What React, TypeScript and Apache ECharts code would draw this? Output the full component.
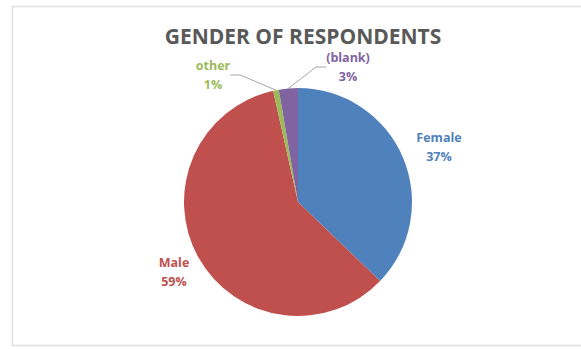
import React, { useEffect, useRef } from "react";
import * as echarts from "echarts";

const categories = ["Female", "Male", "other", "(blank)"];
const values = [37.2, 59.3, 0.8, 2.7];
const colors = ["#4F81BD", "#C0504D", "#9BBB59", "#8064A2"];
const labelColors = ["#4F81BD", "#C0504D", "#9BBB59", "#8064A2"];
const title = "GENDER OF RESPONDENTS";
// label block centres (chart px)
const labelPos: [number, number][] = [
  [439, 147],
  [174, 272],
  [213, 75],
  [348, 67],
];
const showLine = [false, false, true, true];

export default function App() {
  const ref = useRef<HTMLDivElement>(null);
  useEffect(() => {
    if (!ref.current) return;
    const chart = echarts.init(ref.current, undefined, { renderer: "svg" });
    const total = values.reduce((a, b) => a + b, 0);
    chart.setOption({
      animation: false,
      backgroundColor: "#ffffff",
      title: {
        text: title,
        left: 298,
        top: 20,
        textAlign: "center",
        textStyle: {
          fontFamily: "Open Sans",
          fontSize: 21,
          fontWeight: "bold",
          color: "#595959",
        },
      },
      graphic: [
        {
          type: "rect",
          shape: { x: 12.5, y: 6.5, width: 600, height: 339 },
          style: { fill: "none", stroke: "#e0e0e0", lineWidth: 1.5 },
          silent: true,
        },
      ],
      series: [
        {
          type: "pie",
          center: [298, 202],
          radius: 114,
          startAngle: 90,
          clockwise: true,
          avoidLabelOverlap: false,
          data: categories.map((c, i) => ({
            name: c,
            value: values[i],
            itemStyle: { color: colors[i] },
            label: { color: labelColors[i] },
            labelLine: { show: showLine[i] },
          })),
          itemStyle: { borderWidth: 0 },
          label: {
            show: true,
            position: "outside",
            fontFamily: "Open Sans",
            fontSize: 12.5,
            fontWeight: "bold",
            lineHeight: 19,
            formatter: (p: any) =>
              `${p.name}\n${Math.round((p.value / total) * 100)}%`,
          },
          labelLine: {
            show: true,
            length: 10,
            length2: 10,
            lineStyle: { color: "#a6a6a6", width: 1 },
          },
          labelLayout: (params: any) => {
            const [x, y] = labelPos[params.dataIndex];
            return { x, y, align: "center", verticalAlign: "middle" };
          },
        },
      ],
    });
    return () => chart.dispose();
  }, []);
  return (
    <div
      ref={ref}
      style={{ position: "fixed", left: 0, top: 0, width: 581, height: 349 }}
    />
  );
}
